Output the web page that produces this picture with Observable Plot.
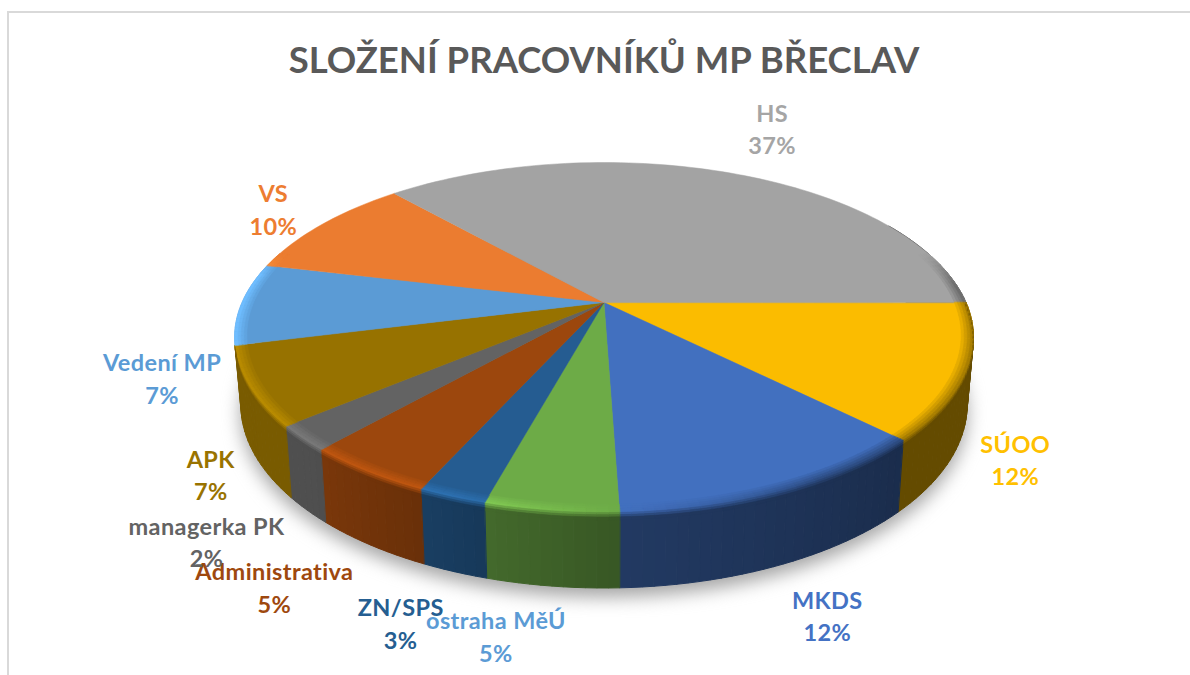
<!DOCTYPE html>
<html lang="cs">
<head>
<meta charset="utf-8">
<script src="https://cdn.jsdelivr.net/npm/d3@7"></script>
<script src="https://cdn.jsdelivr.net/npm/@observablehq/plot@0.6"></script>
<style>
  html, body { margin: 0; background: #fff; overflow: hidden; }
  #frame { position: absolute; left: 7px; top: 11px; right: 0; bottom: 0; border-left: 2px solid #d9d9d9; border-top: 2px solid #d9d9d9; pointer-events: none; }
  #title { height: 80px; box-sizing: border-box; width: 1208px; padding-top: 37px; text-align: center; font: 700 36.5px/44px Lato, "Open Sans", sans-serif; color: #595959; white-space: nowrap; }
  svg { display: block; }
  svg text { letter-spacing: 0.4px; }
</style>
</head>
<body>
<div id="frame"></div>
<div id="title">SLOŽENÍ PRACOVNÍKŮ MP BŘECLAV</div>
<div id="chart"></div>
<script>
// Chart values, clockwise from the east edge of the pie
const categories = ["SÚOO", "MKDS", "ostraha MěÚ", "ZN/SPS", "Administrativa", "managerka PK", "APK", "Vedení MP", "VS", "HS"];
const shares = [12.45, 12.0, 4.85, 2.5, 4.8, 2.3, 7.2, 7.6, 9.7, 36.6];
const percentLabels = ["12%", "12%", "5%", "3%", "5%", "2%", "7%", "7%", "10%", "37%"];
const sliceColors = ["#FBBC00", "#4270BF", "#6DAB47", "#255C91", "#9C470D", "#636363", "#977200", "#5B9BD5", "#EB7C30", "#A3A3A3"];
const labelColors = ["#FFC000", "#4472C4", "#5B9BD5", "#255E91", "#9E480E", "#636363", "#997300", "#5B9BD5", "#ED7D31", "#A5A5A5"];
// Hand placement of each label relative to the rim at the slice's middle
const labelShift = [[49, 86.5], [46, 123.5], [-55, 124.5], [-51, 125], [-92, 114.5], [-95.5, 102.5], [-38.5, 87.5], [-79.5, 73.5], [-48.5, -16.5], [43, -45.5]];

// Perspective pie geometry
const view = {cx: 603.5, cy: 302, a: 362, b: 168, k: 0.2};
const base = {sx: 0.983, sy: 1.05, drop: 65};
const rad = d => d * Math.PI / 180;
function top3d(c, r = 1) {
  const u = r * Math.cos(rad(c)), v = -r * Math.sin(rad(c)), d = 1 + view.k * v;
  return [view.cx + view.a * u / d, view.cy - view.b * v / d];
}
function wall3d(c, t) {
  const [x, y] = top3d(c);
  const bx = view.cx + (x - view.cx) * base.sx, by = view.cy + base.drop + (y - view.cy) * base.sy;
  return [x + (bx - x) * t, y + (by - y) * t];
}

const cum = d3.cumsum(shares);
const spans = shares.map((s, i) => ({i, from: (cum[i] - s) * 3.6, to: cum[i] * 3.6}));
const wallEnd = cum[6] * 3.6; // the wall's silhouette meets the end of APK
const wallFactor = d3.scaleLinear([-30, 45, 90, 115, 135, 230], [0.40, 0.40, 0.52, 0.68, 0.80, 0.80]).clamp(true);
const lightness = d3.scaleLinear([60, 110], [0, 1]).clamp(true);
const scale = (col, f) => { const q = d3.rgb(col); return d3.rgb(q.r * f, q.g * f, q.b * f).formatHex(); };
const wallColor = (col, c) => scale(col, wallFactor(c));
function rimColor(col, c) {
  const mid = d3.interpolateRgb(col, wallColor(col, c))(0.55);
  const bright = d3.rgb(col).brighter(0.55).formatHex();
  return d3.interpolateRgb(mid, bright)(lightness(c));
}

// Cut an angular range of every slice into narrow pieces
function pieces(start, end, step) {
  const out = [];
  const wrapped = [...spans.map(s => ({...s, from: s.from - 360, to: s.to - 360})), ...spans];
  for (const s of wrapped) {
    const a = Math.max(s.from, start), b = Math.min(s.to, end);
    if (b <= a) continue;
    const n = Math.ceil((b - a) / step);
    for (let j = 0; j < n; ++j) out.push({i: s.i, a: a + (b - a) * j / n, b: a + (b - a) * (j + 1) / n});
  }
  return out;
}

const rows = {wall: [], bevel: [], top: [], shadow: []};
let id = 0;
function pushPoly(list, pts, fill) {
  const key = id++;
  for (const [x, y] of pts) list.push({key, x, y, fill});
}

// Side wall
for (const p of pieces(-30, wallEnd, 1.5)) {
  const m = (p.a + p.b) / 2;
  pushPoly(rows.wall, [wall3d(p.a, 0), wall3d(p.b, 0), wall3d(p.b, 1), wall3d(p.a, 1)], wallColor(sliceColors[p.i], m));
}
// Top slices
for (const s of spans) {
  const pts = [[view.cx, view.cy]];
  const n = Math.ceil((s.to - s.from) / 1.5);
  for (let j = 0; j <= n; ++j) pts.push(top3d(s.from + (s.to - s.from) * j / n));
  pushPoly(rows.top, pts, sliceColors[s.i]);
}
// Bevel rounding the rim
const ringRadii = [0.968, 0.976, 0.984, 0.992, 1];
const wallSteps = [0, 0.03, 0.06, 0.1];
const fade = c => Math.max(0, Math.min(1, (c + 18) / 12, (198 - c) / 8));
for (const p of pieces(-18, 198, 1.5)) {
  const m = (p.a + p.b) / 2, col = sliceColors[p.i], f = fade(m);
  const rim = rimColor(col, m);
  for (let j = 0; j < ringRadii.length - 1; ++j) {
    const t = ((j + 1) / (ringRadii.length - 1)) * f;
    pushPoly(rows.bevel, [top3d(p.a, ringRadii[j]), top3d(p.b, ringRadii[j]), top3d(p.b, ringRadii[j + 1]), top3d(p.a, ringRadii[j + 1])], d3.interpolateRgb(col, rim)(t));
  }
  if (m > 0 && m < wallEnd) {
    for (let j = 0; j < wallSteps.length - 1; ++j) {
      const t = (j + 1) / (wallSteps.length - 1);
      pushPoly(rows.bevel, [wall3d(p.a, wallSteps[j]), wall3d(p.b, wallSteps[j]), wall3d(p.b, wallSteps[j + 1]), wall3d(p.a, wallSteps[j + 1])], d3.interpolateRgb(rim, wallColor(col, m))(t));
    }
  }
}
// Soft shadow under the pie
{
  const pts = d3.range(0, 360, 3).map(c => { const [x, y] = wall3d(c, 1); return [x, y + 9]; });
  pushPoly(rows.shadow, pts, "#a4a4a4");
}

const labels = categories.map((name, i) => {
  const [x, y] = top3d((cum[i] - shares[i] / 2) * 3.6);
  return {text: `${name}\n${percentLabels[i]}`, x, y, color: labelColors[i], shift: labelShift[i]};
});

const poly = (data, extra = {}) => Plot.line(data, {x: "x", y: "y", z: "key", fill: "fill", stroke: "fill", strokeWidth: 1, curve: "linear-closed", ...extra});

const chart = Plot.plot({
  width: 1190, height: 595,
  margin: 0,
  x: {type: "linear", domain: [0, 1190], range: [0, 1190], axis: null},
  y: {type: "linear", domain: [80, 675], range: [0, 595], axis: null},
  color: {type: "identity"},
  marks: [
    Plot.line(rows.shadow, {x: "x", y: "y", z: "key", fill: "fill", stroke: "none", curve: "linear-closed", imageFilter: "blur(9px)"}),
    poly(rows.wall),
    poly(rows.top, {strokeWidth: 0.5}),
    poly(rows.bevel, {strokeWidth: 0.6}),
    ...labels.map(l => Plot.text([l], {
      x: "x", y: "y", text: "text", dx: l.shift[0], dy: l.shift[1],
      fill: "color", fontSize: 23.5, fontWeight: 700, fontFamily: "Lato, 'Open Sans', sans-serif",
      lineHeight: 1.38, textAnchor: "middle", stroke: "none"
    }))
  ]
});
document.getElementById("chart").append(chart);
</script>
</body>
</html>
